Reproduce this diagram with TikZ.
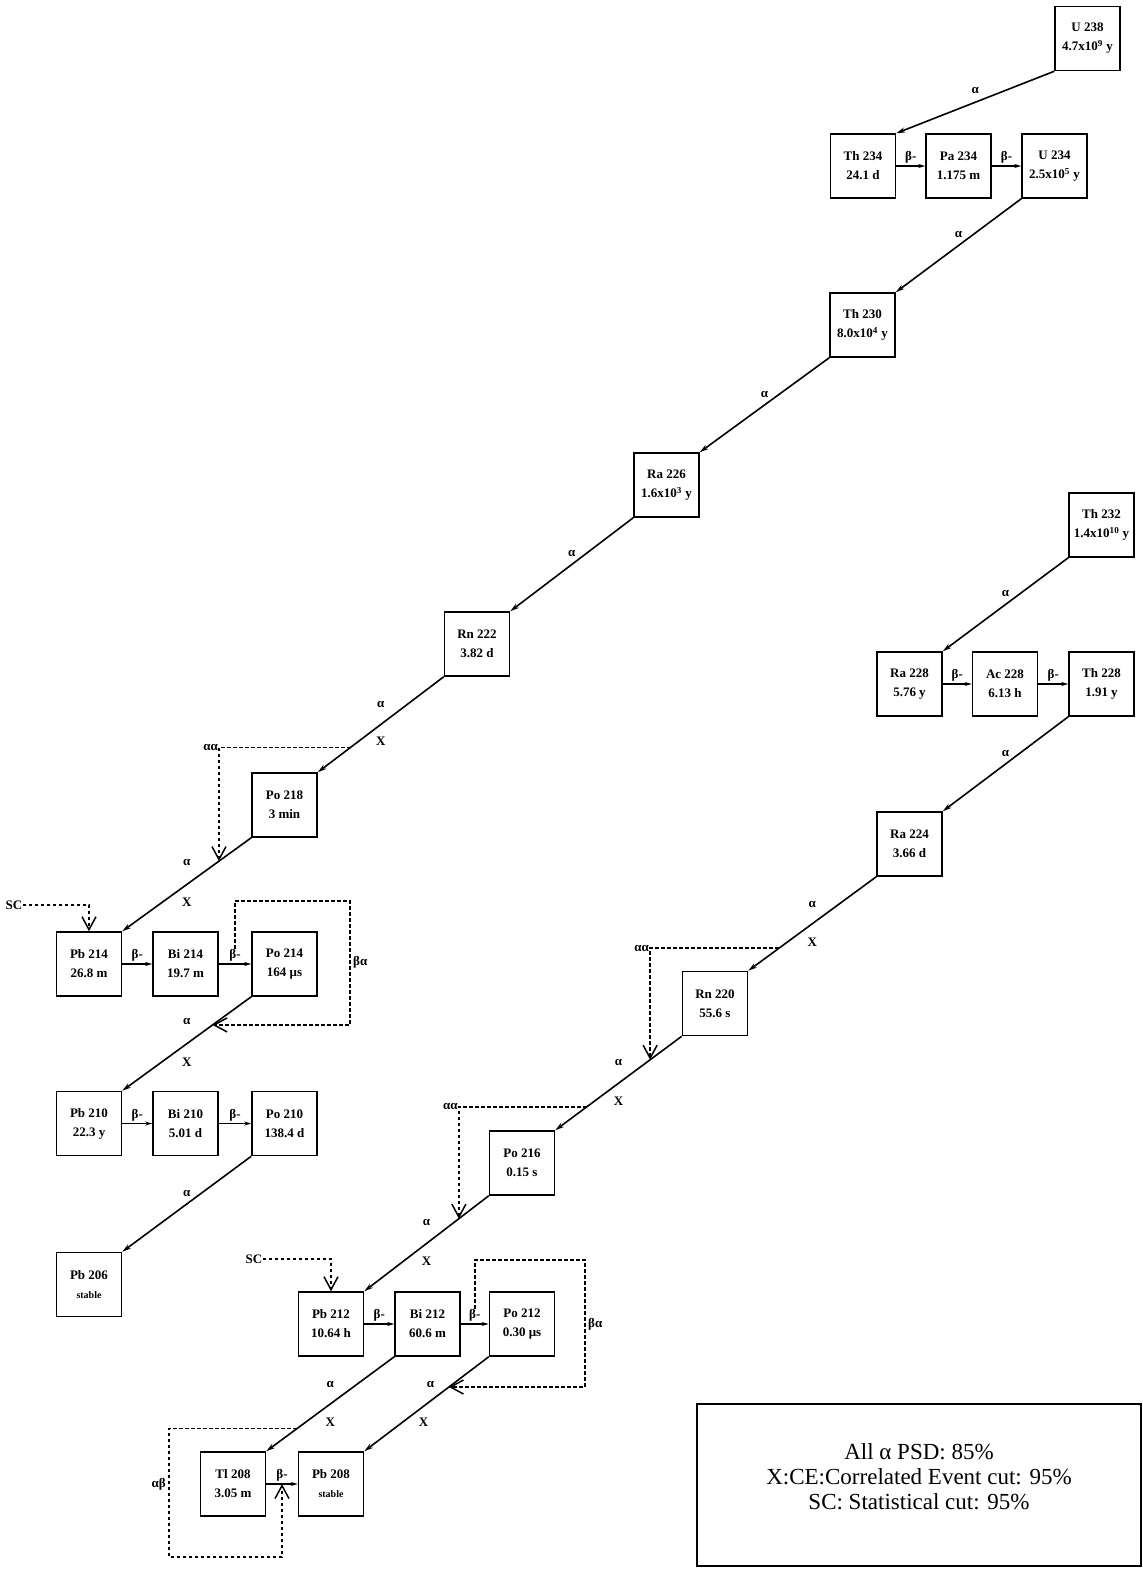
\documentclass[tikz,border=0pt]{standalone}
\usepackage{fontspec}
\setmainfont{Liberation Serif}
\usetikzlibrary{arrows.meta}
\begin{document}
\begin{tikzpicture}[x=1pt,y=-1pt,
  nuc/.style={draw, line width=1.5pt, minimum width=65pt, minimum height=64pt, inner sep=0pt, align=center, font=\fontsize{13}{19}\selectfont\bfseries},
  adecay/.style={line width=1.6pt, -{Stealth[open,length=9pt,width=5pt]}},
  bdecay/.style={line width=1.4pt, -{Stealth[open,length=7pt,width=4pt]}},
  lab/.style={font=\fontsize{13}{15}\selectfont\bfseries, inner sep=0pt},
  xlab/.style={font=\fontsize{13}{15}\selectfont\bfseries, inner sep=0pt},
  dashar/.style={line width=1.5pt, dash pattern=on 3.5pt off 2.5pt, -{Straight Barb[length=13pt,width=14pt]}},
  leg/.style={font=\fontsize{23}{25}\selectfont, align=center, inner sep=0pt},
]
\useasboundingbox (0,0) rectangle (1143,1569);

% ---------- U-238 chain ----------
\node[nuc] (U238) at (1087.5,38.5) {U 238\\4.7x10\textsuperscript{9} y};
\node[nuc] (Th234) at (863,166) {Th 234\\24.1 d};
\node[nuc] (Pa234) at (958.5,166) {Pa 234\\1.175 m};
\node[nuc] (U234) at (1054.5,166) {U 234\\2.5x10\textsuperscript{5} y};
\node[nuc] (Th230) at (862.5,325) {Th 230\\8.0x10\textsuperscript{4} y};
\node[nuc] (Ra226) at (666.5,485) {Ra 226\\1.6x10\textsuperscript{3} y};
\node[nuc] (Rn222) at (477,644) {Rn 222\\3.82 d};
\node[nuc] (Po218) at (284.5,805) {Po 218\\3 min};
\node[nuc] (Pb214) at (89,964) {Pb 214\\26.8 m};
\node[nuc] (Bi214) at (185.5,964) {Bi 214\\19.7 m};
\node[nuc] (Po214) at (284.5,964) {Po 214\\164 μs};
\node[nuc] (Pb210) at (89,1123.5) {Pb 210\\22.3 y};
\node[nuc] (Bi210) at (185.5,1123.5) {Bi 210\\5.01 d};
\node[nuc] (Po210) at (284.5,1123.5) {Po 210\\138.4 d};
\node[nuc] (Pb206) at (89,1284.5) {Pb 206\\{\fontsize{10}{14}\selectfont stable}};

\draw[adecay] (U238.south west) -- node[lab,midway,yshift=12pt]{α} (Th234.north east);
\draw[bdecay] (Th234.east) -- node[lab,midway,above=2pt] (b0l) {β-} (Pa234.west);
\draw[bdecay] (Pa234.east) -- node[lab,midway,above=2pt] (b1l) {β-} (U234.west);
\draw[adecay] (U234.south west) -- node[lab,midway,yshift=11pt]{α} (Th230.north east);
\draw[adecay] (Th230.south west) -- node[lab,midway,yshift=11pt]{α} (Ra226.north east);
\draw[adecay] (Ra226.south west) -- node[lab,midway,yshift=11pt]{α} (Rn222.north east);
\draw[adecay] (Rn222.south west) -- coordinate[pos=0.74] (aa1s)
   node[lab,midway,yshift=20pt]{α} node[xlab,midway,yshift=-17pt]{X} (Po218.north east);
\draw[adecay] (Po218.south west) -- coordinate[pos=0.25] (aa1e)
   node[lab,midway,yshift=22pt]{α} node[xlab,midway,yshift=-18pt]{X} (Pb214.north east);
\draw[bdecay] (Pb214.east) -- node[lab,midway,above=2pt] (b2l) {β-} (Bi214.west);
\draw[bdecay] (Bi214.east) -- node[lab,midway,above=2pt] (b3l) {β-} (Po214.west);
\draw[adecay] (Po214.south west) -- coordinate[pos=0.3] (ba1e)
   node[lab,midway,yshift=22pt]{α} node[xlab,midway,yshift=-18pt]{X} (Pb210.north east);
\draw[bdecay] (Pb210.east) -- node[lab,midway,above=2pt] (b4l) {β-} (Bi210.west);
\draw[bdecay] (Bi210.east) -- node[lab,midway,above=2pt] (b5l) {β-} (Po210.west);
\draw[adecay] (Po210.south west) -- node[lab,midway,yshift=11pt]{α} (Pb206.north east);

% alpha-alpha (Rn222 -> Po218 -> Pb214)
\draw[dashar] (aa1s) -| (aa1e);
\path (aa1s -| aa1e) node[lab,left=1pt] (aa1l) {αα};
% SC for Pb214
\node[lab] (sc1) at (14,905) {SC};
\draw[dashar] (sc1.east) -| (Pb214.north);
% beta-alpha loop (Bi214 -> Po214 -> Pb210)
\coordinate (ba1c) at (350,901);
\draw[dashar] (b3l.north) |- (ba1c) |- (ba1e);
\node[lab,right=3pt] (ba1l) at (350,962) {βα};

% ---------- Th-232 chain ----------
\node[nuc] (Th232) at (1101.5,525) {Th 232\\1.4x10\textsuperscript{10} y};
\node[nuc] (Ra228) at (909.5,684) {Ra 228\\5.76 y};
\node[nuc] (Ac228) at (1005,684) {Ac 228\\6.13 h};
\node[nuc] (Th228) at (1101.5,684) {Th 228\\1.91 y};
\node[nuc] (Ra224) at (909.5,844) {Ra 224\\3.66 d};
\node[nuc] (Rn220) at (715,1003.5) {Rn 220\\55.6 s};
\node[nuc] (Po216) at (522,1163) {Po 216\\0.15 s};
\node[nuc] (Pb212) at (331,1324) {Pb 212\\10.64 h};
\node[nuc] (Bi212) at (427.5,1324) {Bi 212\\60.6 m};
\node[nuc] (Po212) at (522,1324) {Po 212\\0.30 μs};
\node[nuc] (Tl208) at (233,1484) {Tl 208\\3.05 m};
\node[nuc] (Pb208) at (331,1484) {Pb 208\\{\fontsize{10}{14}\selectfont stable}};

\draw[adecay] (Th232.south west) -- node[lab,midway,yshift=11pt]{α} (Ra228.north east);
\draw[bdecay] (Ra228.east) -- node[lab,midway,above=2pt] (b6l) {β-} (Ac228.west);
\draw[bdecay] (Ac228.east) -- node[lab,midway,above=2pt] (b7l) {β-} (Th228.west);
\draw[adecay] (Th228.south west) -- node[lab,midway,yshift=11pt]{α} (Ra224.north east);
\draw[adecay] (Ra224.south west) -- coordinate[pos=0.76] (aa2s)
   node[lab,midway,yshift=19pt]{α} node[xlab,midway,yshift=-18pt]{X} (Rn220.north east);
\draw[adecay] (Rn220.south west) -- coordinate[pos=0.25] (aa2e) coordinate[pos=0.75] (aa3s)
   node[lab,midway,yshift=21pt]{α} node[xlab,midway,yshift=-18pt]{X} (Po216.north east);
\draw[adecay] (Po216.south west) -- coordinate[pos=0.24] (aa3e)
   node[lab,midway,yshift=21pt]{α} node[xlab,midway,yshift=-18pt]{X} (Pb212.north east);
\draw[bdecay] (Pb212.east) -- node[lab,midway,above=2pt] (b8l) {β-} (Bi212.west);
\draw[bdecay] (Bi212.east) -- node[lab,midway,above=2pt] (b9l) {β-} (Po212.west);
\draw[adecay] (Bi212.south west) -- coordinate[pos=0.76] (ab1s)
   node[lab,midway,yshift=20pt]{α} node[xlab,midway,yshift=-18pt]{X} (Tl208.north east);
\draw[adecay] (Po212.south west) -- coordinate[pos=0.32] (ba2e)
   node[lab,midway,yshift=20pt,xshift=4pt]{α} node[xlab,midway,yshift=-18pt,xshift=-3pt]{X} (Pb208.north east);
\draw[bdecay] (Tl208.east) -- coordinate[midway] (tlb) node[lab,midway,above=2pt] (b10l) {β-} (Pb208.west);

% alpha-alpha (Ra224 -> Rn220 -> Po216)
\draw[dashar] (aa2s) -| (aa2e);
\path (aa2s -| aa2e) node[lab,left=1pt] (aa2l) {αα};
% alpha-alpha (Rn220 -> Po216 -> Pb212)
\draw[dashar] (aa3s) -| (aa3e);
\path (aa3s -| aa3e) node[lab,left=1pt] (aa3l) {αα};
% SC for Pb212
\node[lab] (sc2) at (254,1259) {SC};
\draw[dashar] (sc2.east) -| (Pb212.north);
% beta-alpha loop (Bi212 -> Po212 -> Pb208)
\coordinate (ba2c) at (585,1260);
\draw[dashar] (b9l.north) |- (ba2c) |- (ba2e);
\node[lab,right=3pt] (ba2l) at (585,1324) {βα};
% alpha-beta loop (Bi212 -> Tl208 -> Pb208)
\coordinate (abc) at (169,1557);
\draw[dashar] (ab1s) -| (abc) -| (tlb);
\node[lab,left=3pt] (ab1l) at (169,1484) {αβ};

% ---------- legend ----------
\node[draw, line width=1.3pt, minimum width=444pt, minimum height=162pt, inner sep=0pt] (legend) at (919,1485) {};
\node[leg] (legtxt) at (919,1477) {All α PSD: 85\%\\X:CE:Correlated Event cut: 95\%\\SC: Statistical cut: 95\%};
\end{tikzpicture}
\end{document}
